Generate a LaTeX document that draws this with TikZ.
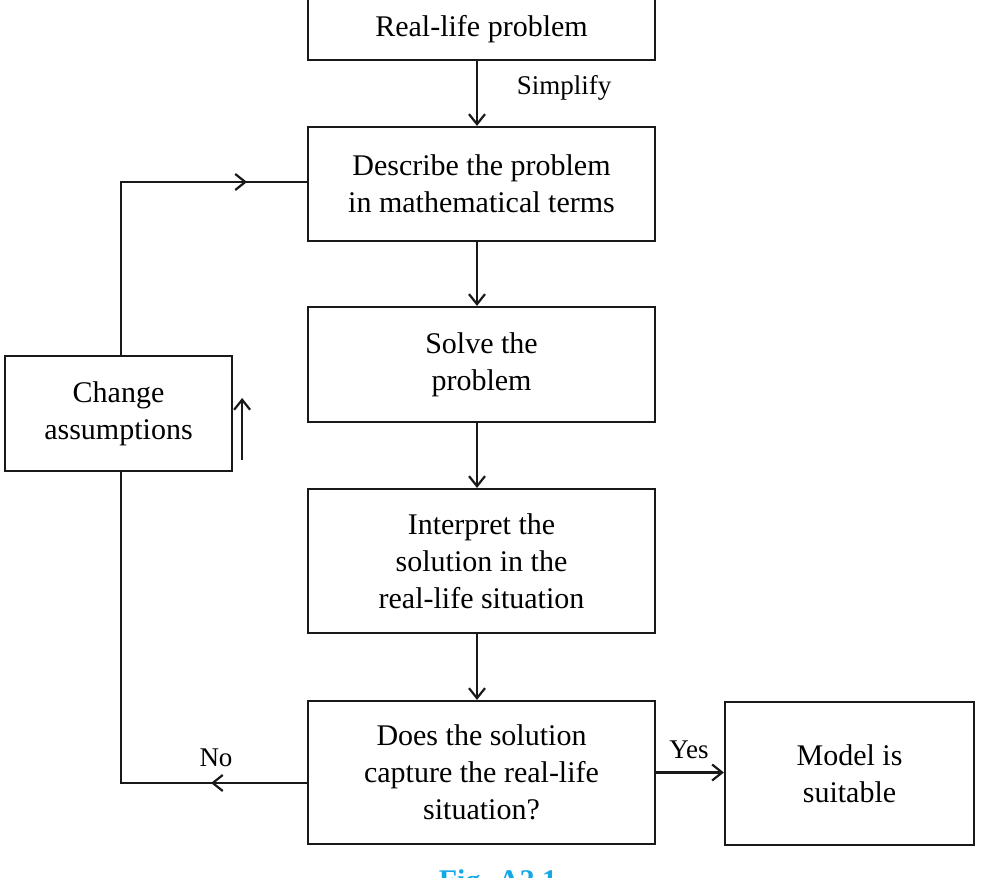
\documentclass[tikz,border=0pt]{standalone}
\usepackage{fontspec}
\setmainfont{Liberation Serif}
\usetikzlibrary{arrows.meta}
\definecolor{figblue}{RGB}{20,168,228}

\begin{document}
\begin{tikzpicture}[x=0.5pt, y=-0.5pt,
        box/.style={draw=black!90, line width=1.1pt, fill=white, align=center,
            font=\fontsize{15}{18.5}\selectfont, inner sep=0pt},
        lbl/.style={font=\fontsize{13.5}{16}\selectfont},
        flow/.style={draw=black!90, line width=1.1pt,
            -{Straight Barb[length=5pt,width=8pt]}},
        wire/.style={draw=black!90, line width=1.1pt}]
        \useasboundingbox (0,0) rectangle (994,877);
        \clip (0,0) rectangle (994,877);
        % main column
        \node[box, minimum width=173.5pt, minimum height=31pt] (real)
            at (481.5,29) {Real-life problem};
        \node[box, minimum width=173.5pt, minimum height=57pt] (desc)
            at (481.5,184) {Describe the problem\\in mathematical terms};
        \node[box, minimum width=173.5pt, minimum height=57.5pt] (solve)
            at (481.5,364.5) {Solve the\\problem};
        \node[box, minimum width=173.5pt, minimum height=72pt] (interp)
            at (481.5,561) {Interpret the\\solution in the\\real-life situation};
        \node[box, minimum width=173.5pt, minimum height=71.5pt] (check)
            at (481.5,772.5) {Does the solution\\capture the real-life\\situation?};
        \node[box, minimum width=124.5pt, minimum height=71.5pt] (model)
            at (849.5,773.5) {Model is\\suitable};
        \draw[flow] ([xshift=-2.25pt]real.south) -- ([xshift=-2.25pt]desc.north);
        \draw[flow] ([xshift=-2.25pt]desc.south) -- ([xshift=-2.25pt]solve.north);
        \draw[flow] ([xshift=-2.25pt]solve.south) -- ([xshift=-2.25pt]interp.north);
        \draw[flow] ([xshift=-2.25pt]interp.south) -- ([xshift=-2.25pt]check.north);
        \node[lbl] (simp) at (564,88) {Simplify};
        % yes branch
        \draw[flow] (check.east) -- (check.east -| model.west);
        \node[lbl] (yes) at (689,750) {Yes};
        % no branch, back to the description
        \coordinate (nobend) at (121,783);
        \coordinate (upbend) at (121,182);
        \coordinate (notip) at (211,783);
        \coordinate (uptip) at (247,182);
        \draw[wire] (check.west |- nobend) -- (nobend) -- (upbend)
            -- (desc.west |- upbend);
        \draw[flow] (check.west |- nobend) -- (notip);
        \draw[flow] (upbend) -- (uptip);
        \node[lbl] (no) at (216,758) {No};
        \node[box, minimum width=113.5pt, minimum height=57.5pt] (change)
            at (118.5,413.5) {Change\\assumptions};
        \draw[flow] ([xshift=4.5pt,yshift=-23.25pt]change.east)
            -- ([xshift=4.5pt,yshift=7.75pt]change.east);
        % caption
        \node[font=\fontsize{15}{18}\selectfont\bfseries, text=figblue,
            anchor=base] (cap) at (498,890) {Fig. A2.1};
\end{tikzpicture}
\end{document}
